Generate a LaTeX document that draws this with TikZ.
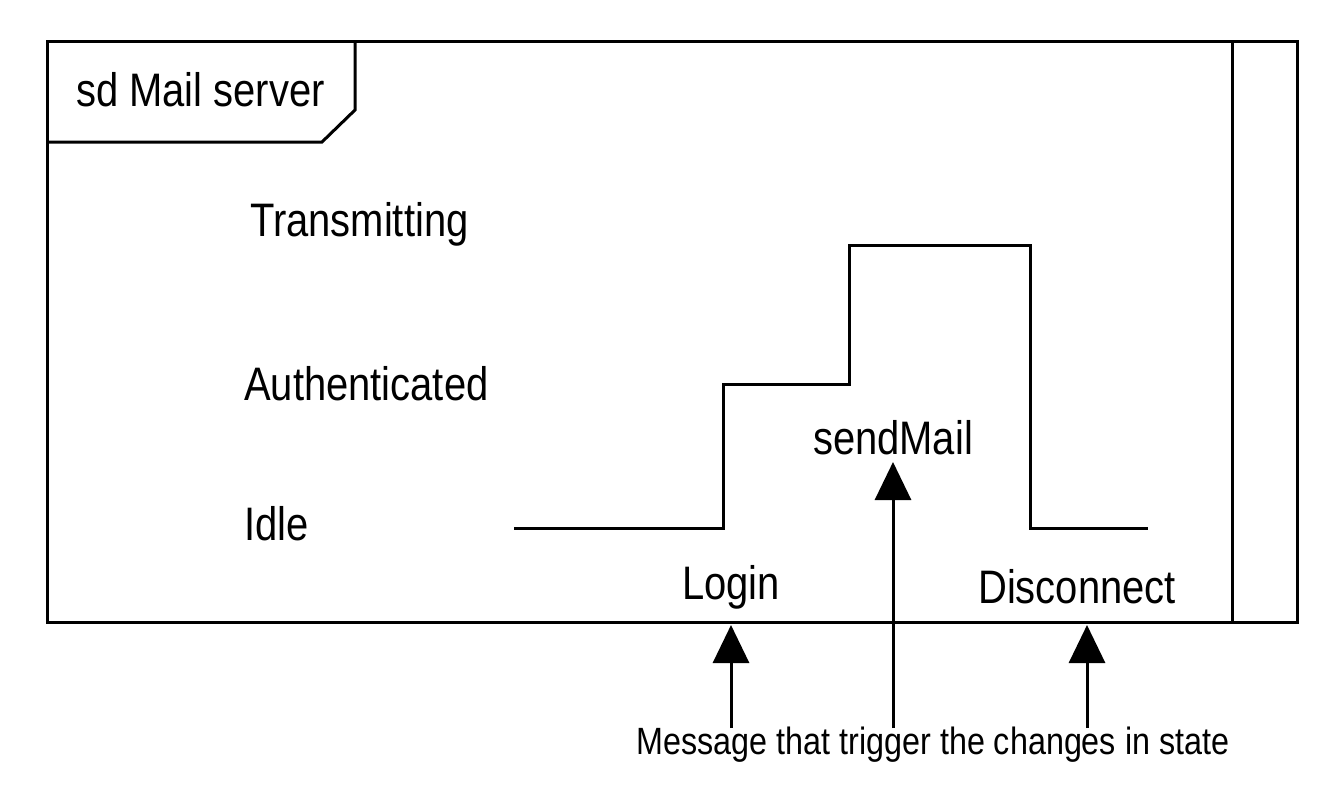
\documentclass[tikz,border=0pt]{standalone}
\usepackage{fontspec}
\setmainfont{Liberation Sans}[FakeStretch=0.85]
\usetikzlibrary{arrows.meta}
\begin{document}
\begin{tikzpicture}[x=1pt,y=-1pt,
  ln/.style={line width=3pt},
  lab/.style={font=\fontsize{47}{50}\selectfont, inner sep=0pt},
  msg/.style={ln,-{Triangle[width=36pt,length=38pt]}}]
\useasboundingbox (0,0) rectangle (1332,784);
\draw[ln] (47,42) rectangle (1297,622);
\draw[ln] (1232,42) -- (1232,622);
\draw[ln] (47,142) -- (322,142) -- (355,110) -- (355,42);
\node[lab,anchor=west] (title) at (76,90) {sd Mail server};
\node[lab,anchor=west] (tr) at (250,224) {Transmitting};
\node[lab,anchor=west] (au) at (244,384) {Authenticated};
\node[lab,anchor=west] (id) at (244,524) {Idle};
\draw[ln] (514,528) -- (723,528) -- (723,384) -- (849,384) -- (849,245) -- (1030,245) -- (1030,528) -- (1148,528);
\node[lab] (send) at (893,438) {sendMail};
\node[lab] (login) at (731,587) {Login};
\node[lab] (disc) at (1077,587) {Disconnect};
\node[font=\fontsize{38}{40}\selectfont, inner sep=0pt] (cap) at (933,745) {Message that trigger the changes in state};
\coordinate (a1) at (731,625); \coordinate (a2) at (893,462); \coordinate (a3) at (1087,625);
\draw[msg] (731,728) -- (a1);
\draw[msg] (893,728) -- (a2);
\draw[msg] (1087,728) -- (a3);
\end{tikzpicture}
\end{document}
